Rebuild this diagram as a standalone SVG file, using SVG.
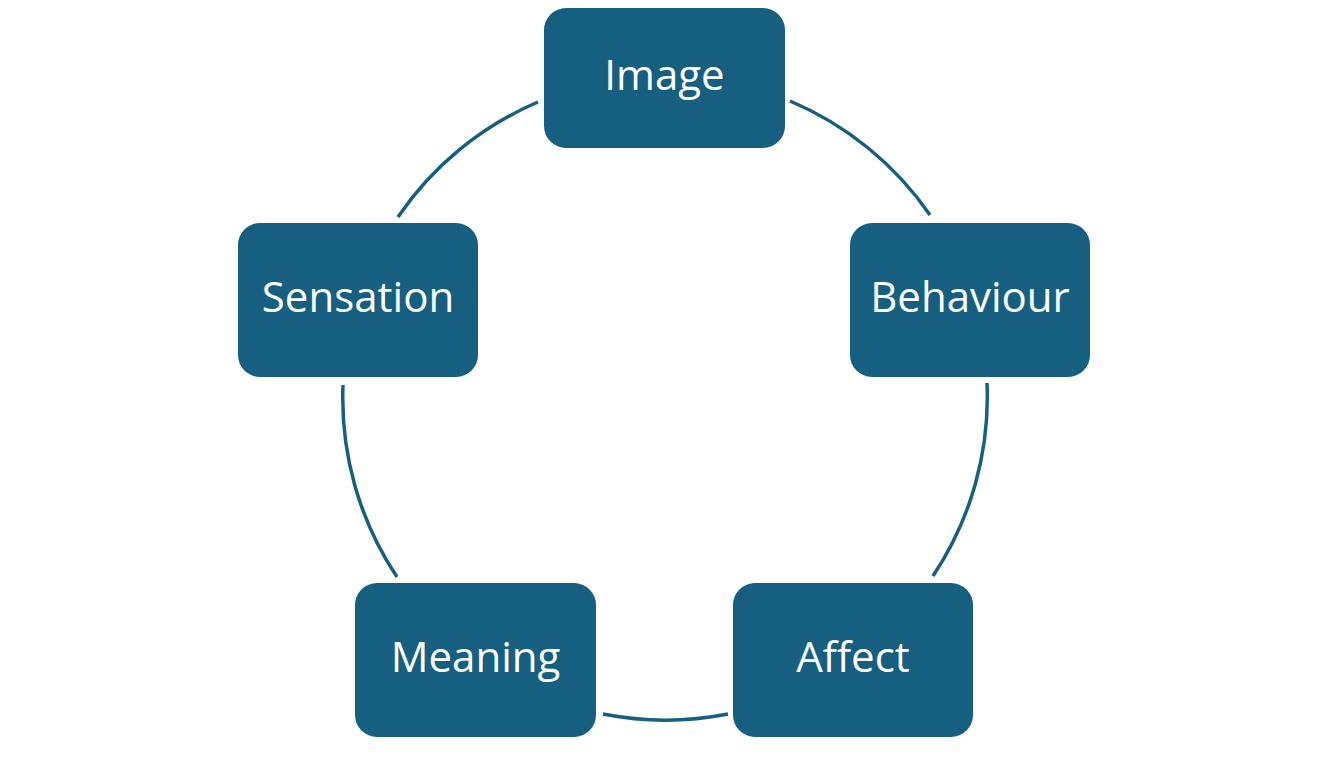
<svg xmlns="http://www.w3.org/2000/svg" width="1333" height="760" viewBox="0 0 1333 760">
<style>
.node rect{fill:#175F80;}
.node text{fill:#FFFFFF;font-family:"Open Sans","Liberation Sans",sans-serif;font-size:42px;text-anchor:middle;}
.conn path{fill:none;stroke:#175F80;stroke-width:3.5;}
</style>
<rect width="1333" height="760" fill="#FFFFFF"/>
<g class="conn" id="connectors">
<path d="M790,101 A322,322 0 0 1 930,215"/>
<path d="M987,383 A322,322 0 0 1 933,576"/>
<path d="M728,714 A322,322 0 0 1 603,714"/>
<path d="M397,577 A322,322 0 0 1 343,385"/>
<path d="M398,217 A322,322 0 0 1 538,102"/>
</g>
<g class="node" id="image"><rect x="544" y="8" width="241" height="140" rx="22"/><text x="664.5" y="90">Image</text></g>
<g class="node" id="behaviour"><rect x="850" y="223" width="240" height="154" rx="22"/><text x="970" y="312">Behaviour</text></g>
<g class="node" id="affect"><rect x="733" y="583" width="240" height="154" rx="22"/><text x="853" y="672">Affect</text></g>
<g class="node" id="meaning"><rect x="355" y="583" width="241" height="154" rx="22"/><text x="475.5" y="672">Meaning</text></g>
<g class="node" id="sensation"><rect x="238" y="223" width="240" height="154" rx="22"/><text x="358" y="312">Sensation</text></g>
</svg>
